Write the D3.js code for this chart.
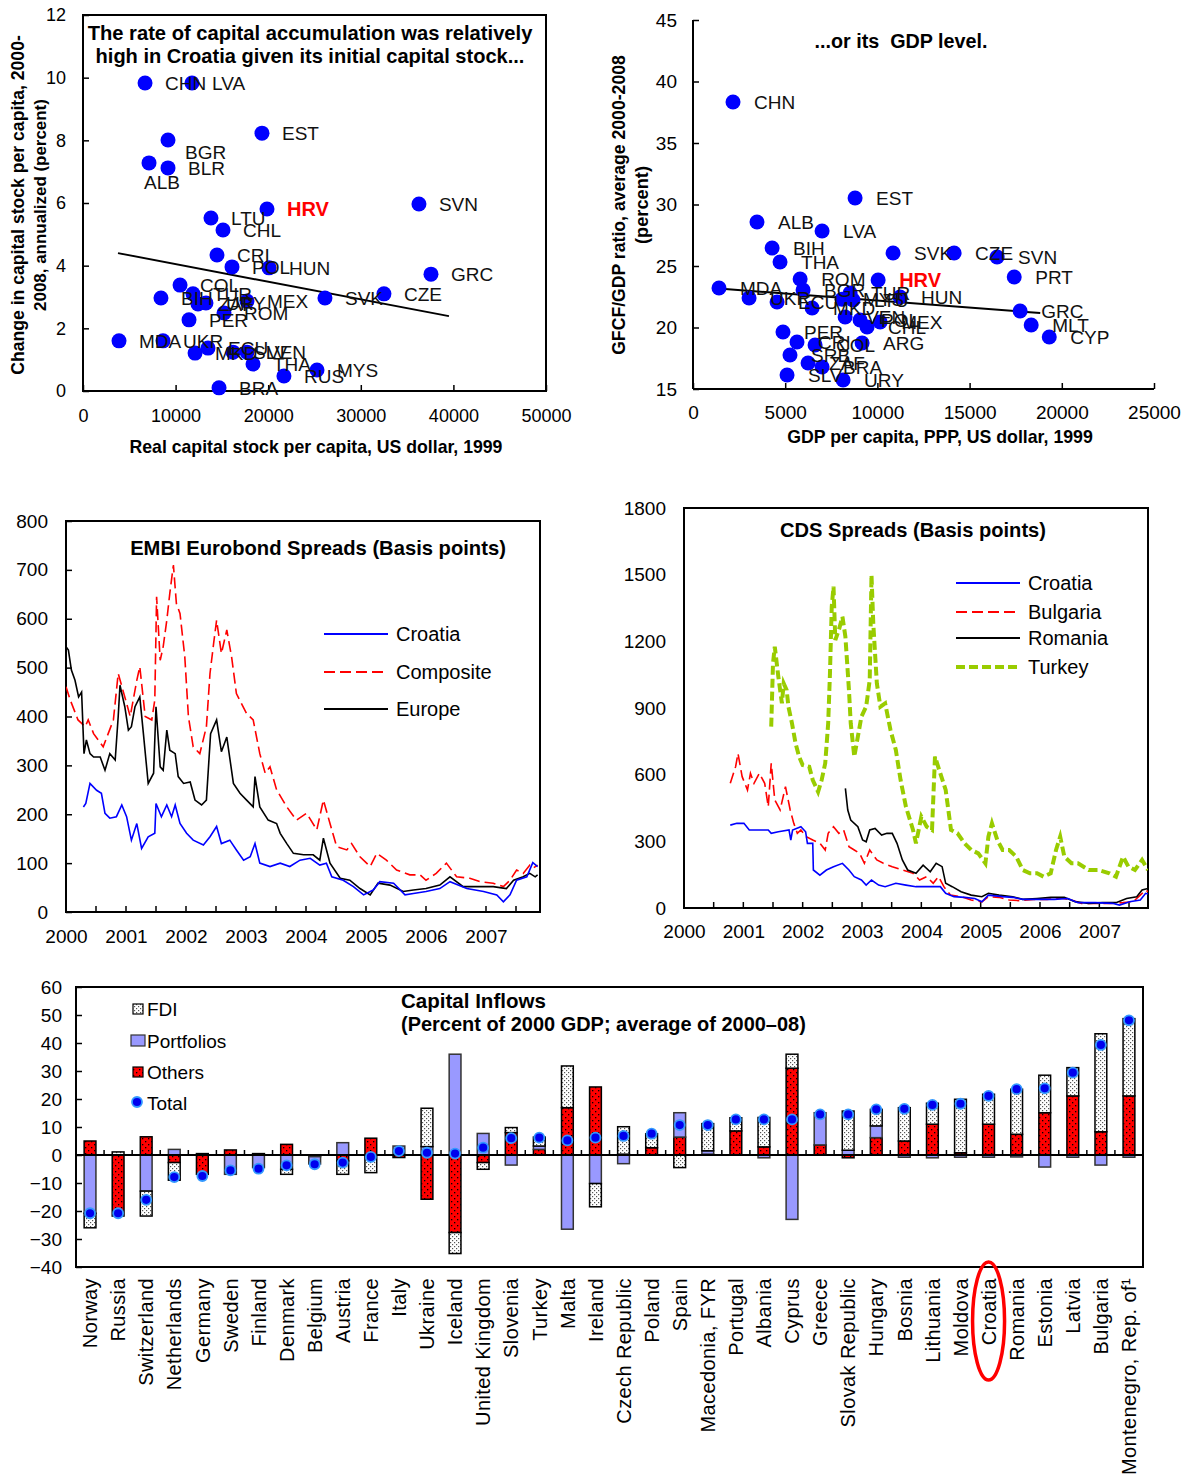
<!DOCTYPE html>
<html><head><meta charset="utf-8">
<script src="https://cdn.jsdelivr.net/npm/d3@7"></script>
<style>body{margin:0;background:#fff}</style>
</head><body>
<script>
// ---------------- DATA ----------------
// Panel 1: capital stock vs capital accumulation
const p1Countries=["CHN","LVA","EST","BGR","ALB","BLR","HRV","SVN","LTU","CHL","CRI","POL","HUN","GRC","COL","CZE","SVK","BIH","TUR","ZAF","URY","MEX","ROM","PER","MDA","UKR","MKD","ECU","SLV","VEN","THA","RUS","MYS","BRA"];
const p1CapitalStock=[6700,11770,19330,9180,7130,9180,19870,36280,13820,15120,14470,16090,20090,37580,10480,32500,26130,8420,11880,12420,13280,17710,15230,11450,3890,8640,12100,13500,16200,17710,18360,21700,25270,14690];
const p1CapitalGrowth=[9.83,9.83,8.23,8.01,7.28,7.12,5.81,5.97,5.52,5.14,4.34,3.96,3.93,3.73,3.38,3.10,2.97,2.97,3.10,2.78,2.81,2.87,2.49,2.27,1.60,1.60,1.21,1.37,1.24,1.24,0.86,0.48,0.67,0.10];
const p1FitX=[3780,39520];
const p1FitY=[4.40,2.39];
const p1XTicks=[0,10000,20000,30000,40000,50000];
const p1YTicks=[0,2,4,6,8,10,12];

// Panel 2: GDP per capita vs GFCF/GDP
const p2Countries=["CHN","EST","ALB","LVA","BIH","THA","SVK","CZE","SVN","PRT","ROM","HRV","MDA","UKR","BGR","ECU","TUR","LTU","MKD","MYS","VEN","POL","CHL","MEX","HUN","PER","CRI","COL","ARG","SRB","ZAF","BRA","SLV","URY","GRC","MLT","CYP"];
const p2GdpPerCapita=[2170,8790,3470,7000,4290,4720,10850,14160,16490,17420,5810,10040,1410,3040,5970,4560,8520,8680,6460,8080,8250,9060,9440,10150,11230,4880,5640,6620,9170,5260,6240,7000,5100,8140,17740,18340,19320];
const p2Gfcf=[38.33,30.53,28.58,27.85,26.46,25.33,26.06,26.06,25.73,24.11,23.94,23.86,23.21,22.40,23.05,22.07,22.80,22.24,21.59,22.30,20.85,20.61,20.04,20.45,22.48,19.63,18.82,18.58,18.74,17.76,17.11,16.79,16.14,15.73,21.34,20.20,19.23];
const p2FitX=[1030,18830];
const p2FitY=[23.21,21.18];
const p2XTicks=[0,5000,10000,15000,20000,25000];
const p2YTicks=[15,20,25,30,35,40,45];

// Panel 3: EMBI spreads [year, bp]
const embiCroatia=[[2000.29,215],[2000.33,222],[2000.4,263],[2000.51,249],[2000.59,243],[2000.65,202],[2000.73,192],[2000.84,195],[2000.93,219],[2001.01,195],[2001.09,147],[2001.18,181],[2001.26,130],[2001.37,154],[2001.48,161],[2001.5,222],[2001.59,195],[2001.68,219],[2001.76,195],[2001.82,219],[2001.9,181],[2002.01,161],[2002.12,147],[2002.29,137],[2002.4,154],[2002.51,175],[2002.59,140],[2002.73,147],[2002.84,127],[2002.96,106],[2003.07,113],[2003.15,140],[2003.23,100],[2003.4,93],[2003.57,100],[2003.73,93],[2003.9,106],[2004.07,110],[2004.23,96],[2004.34,100],[2004.43,72],[2004.62,65],[2004.79,52],[2004.96,35],[2005.12,45],[2005.23,62],[2005.46,59],[2005.65,35],[2005.79,38],[2006.0,42],[2006.23,48],[2006.4,62],[2006.68,48],[2006.96,42],[2007.18,35],[2007.29,21],[2007.4,35],[2007.51,65],[2007.68,72],[2007.78,101],[2007.86,93]];
const embiComposite=[[2000.0,461],[2000.07,434],[2000.2,393],[2000.32,379],[2000.37,393],[2000.46,365],[2000.62,338],[2000.79,393],[2000.87,488],[2000.98,440],[2001.07,400],[2001.18,474],[2001.23,502],[2001.32,400],[2001.43,393],[2001.48,434],[2001.51,645],[2001.57,515],[2001.62,543],[2001.68,597],[2001.73,652],[2001.79,710],[2001.84,631],[2001.9,611],[2001.98,522],[2002.04,400],[2002.12,338],[2002.23,324],[2002.34,379],[2002.4,488],[2002.46,549],[2002.51,597],[2002.59,529],[2002.68,577],[2002.76,522],[2002.84,447],[2003.01,406],[2003.12,393],[2003.23,324],[2003.32,284],[2003.4,297],[2003.51,250],[2003.68,215],[2003.84,188],[2004.01,202],[2004.18,168],[2004.29,229],[2004.4,181],[2004.51,134],[2004.68,127],[2004.76,140],[2004.9,113],[2005.07,93],[2005.18,120],[2005.34,106],[2005.51,86],[2005.73,76],[2005.9,76],[2006.0,65],[2006.17,79],[2006.34,100],[2006.51,72],[2006.73,69],[2006.9,62],[2007.12,59],[2007.29,52],[2007.4,65],[2007.51,86],[2007.62,79],[2007.73,96],[2007.79,90],[2007.86,96]];
const embiEurope=[[2000.0,543],[2000.04,536],[2000.09,495],[2000.15,474],[2000.21,440],[2000.26,450],[2000.3,324],[2000.34,352],[2000.4,324],[2000.46,317],[2000.57,317],[2000.65,290],[2000.73,324],[2000.82,311],[2000.87,400],[2000.9,464],[2000.98,420],[2001.04,372],[2001.09,379],[2001.15,420],[2001.23,440],[2001.29,365],[2001.37,263],[2001.46,284],[2001.5,420],[2001.57,297],[2001.62,290],[2001.68,372],[2001.73,331],[2001.82,324],[2001.87,277],[2001.96,263],[2002.07,266],[2002.15,229],[2002.26,219],[2002.34,229],[2002.41,365],[2002.51,393],[2002.59,328],[2002.68,358],[2002.79,263],[2002.9,243],[2003.01,229],[2003.12,215],[2003.15,277],[2003.23,215],[2003.37,188],[2003.51,181],[2003.57,161],[2003.68,140],[2003.79,120],[2003.96,117],[2004.12,117],[2004.23,106],[2004.29,151],[2004.4,100],[2004.57,69],[2004.73,65],[2004.9,48],[2005.07,35],[2005.2,59],[2005.4,55],[2005.62,42],[2005.79,45],[2006.0,48],[2006.23,55],[2006.4,72],[2006.62,52],[2006.9,52],[2007.12,52],[2007.34,48],[2007.46,65],[2007.62,72],[2007.73,79],[2007.82,72],[2007.86,76]];

// Panel 4: CDS spreads [year, bp]
const cdsCroatia=[[2000.78,373],[2000.89,381],[2001.01,381],[2001.1,351],[2001.24,351],[2001.42,351],[2001.47,336],[2001.59,343],[2001.77,351],[2001.8,306],[2001.83,351],[2001.97,366],[2002.05,343],[2002.08,291],[2002.17,291],[2002.18,171],[2002.29,148],[2002.4,171],[2002.52,186],[2002.67,201],[2002.78,171],[2002.87,141],[2002.99,126],[2003.07,103],[2003.16,126],[2003.28,103],[2003.39,96],[2003.57,111],[2003.74,103],[2003.91,96],[2004.15,96],[2004.32,96],[2004.41,66],[2004.55,51],[2004.73,48],[2004.9,43],[2005.02,28],[2005.13,58],[2005.37,51],[2005.54,48],[2005.71,39],[2005.95,39],[2006.24,39],[2006.47,43],[2006.64,24],[2006.93,24],[2007.22,21],[2007.34,13],[2007.51,28],[2007.69,36],[2007.78,66],[2007.82,63]];
const cdsBulgaria=[[2000.78,561],[2000.87,636],[2000.91,696],[2000.98,591],[2001.07,531],[2001.12,606],[2001.18,561],[2001.27,606],[2001.36,561],[2001.42,456],[2001.47,651],[2001.53,486],[2001.62,441],[2001.71,546],[2001.79,441],[2001.85,381],[2001.91,336],[2001.97,351],[2002.06,321],[2002.17,306],[2002.29,291],[2002.38,261],[2002.43,336],[2002.52,366],[2002.61,336],[2002.69,351],[2002.78,276],[2002.87,261],[2002.96,246],[2003.04,201],[2003.13,261],[2003.25,216],[2003.36,201],[2003.51,186],[2003.68,171],[2003.86,156],[2003.97,126],[2004.09,141],[2004.2,111],[2004.29,141],[2004.38,96],[2004.49,58],[2004.67,51],[2004.84,36],[2005.02,28],[2005.13,51],[2005.31,48],[2005.48,36],[2005.66,33],[2005.89,39],[2006.12,39],[2006.35,45],[2006.53,36],[2006.7,21],[2006.93,21],[2007.17,21],[2007.4,24],[2007.57,28],[2007.69,58],[2007.78,81],[2007.82,73]];
const cdsRomania=[[2002.72,538],[2002.76,441],[2002.81,396],[2002.93,366],[2003.01,306],[2003.07,298],[2003.13,351],[2003.22,358],[2003.33,328],[2003.42,336],[2003.51,336],[2003.59,291],[2003.68,216],[2003.77,171],[2003.91,156],[2004.03,193],[2004.15,163],[2004.25,201],[2004.35,186],[2004.41,111],[2004.52,96],[2004.67,73],[2004.84,58],[2005.02,51],[2005.13,66],[2005.31,58],[2005.54,51],[2005.71,39],[2005.95,43],[2006.18,48],[2006.41,48],[2006.59,28],[2006.82,21],[2007.05,24],[2007.28,24],[2007.46,43],[2007.63,51],[2007.72,81],[2007.82,88]];
const cdsTurkey=[[2001.47,816],[2001.5,1101],[2001.53,1176],[2001.59,1041],[2001.65,921],[2001.68,1011],[2001.73,981],[2001.76,906],[2001.82,831],[2001.88,741],[2001.94,681],[2002.0,643],[2002.11,636],[2002.17,576],[2002.26,523],[2002.32,576],[2002.38,651],[2002.43,831],[2002.46,1056],[2002.49,1356],[2002.52,1446],[2002.55,1206],[2002.61,1251],[2002.67,1311],[2002.72,1221],[2002.78,981],[2002.81,831],[2002.87,681],[2002.93,771],[2002.99,861],[2003.07,906],[2003.13,1026],[2003.16,1498],[2003.19,1281],[2003.25,1011],[2003.31,906],[2003.39,921],[2003.48,801],[2003.57,711],[2003.65,576],[2003.74,456],[2003.86,351],[2003.91,291],[2004.0,411],[2004.09,366],[2004.18,351],[2004.23,681],[2004.32,606],[2004.41,531],[2004.5,351],[2004.61,336],[2004.73,291],[2004.84,261],[2004.96,246],[2005.08,201],[2005.13,321],[2005.19,381],[2005.28,306],[2005.37,261],[2005.48,261],[2005.6,231],[2005.71,171],[2005.83,156],[2005.95,156],[2006.06,141],[2006.18,156],[2006.27,261],[2006.34,321],[2006.41,231],[2006.53,201],[2006.64,201],[2006.82,171],[2006.99,171],[2007.17,156],[2007.28,141],[2007.4,231],[2007.49,186],[2007.6,171],[2007.72,216],[2007.82,171]];
const yearTicks=[2000,2001,2002,2003,2004,2005,2006,2007];
const embiYTicks=[0,100,200,300,400,500,600,700,800];
const cdsYTicks=[0,300,600,900,1200,1500,1800];

// Panel 5: capital inflows (percent of 2000 GDP)
const inflowCountries=["Norway","Russia","Switzerland","Netherlands","Germany","Sweden","Finland","Denmark","Belgium","Austria","France","Italy","Ukraine","Iceland","United Kingdom","Slovenia","Turkey","Malta","Ireland","Czech Republic","Poland","Spain","Macedonia, FYR","Portugal","Albania","Cyprus","Greece","Slovak Republic","Hungary","Bosnia","Lithuania","Moldova","Croatia","Romania","Estonia","Latvia","Bulgaria","Montenegro, Rep. of\u00b9"];
const inflowOthers=[5.0,-21.8,6.5,-2.7,-6.9,1.8,0,3.8,-0.6,-2.1,6.0,-0.9,-15.8,-27.7,-2.7,8.0,2.0,16.9,24.3,0.3,2.6,6.4,0.3,8.6,2.9,31.0,3.6,-1.0,6.2,5.0,11.0,0.8,11.0,7.4,15.1,21.1,8.3,21.1];
const inflowPortfolios=[-20.8,0,-12.9,2.0,0,-6.9,-4.5,-5.1,-2.6,4.4,0,3.2,3.0,36.0,7.7,-3.6,1.2,-26.5,-10.2,-3.1,0,8.7,1.2,0,-1.0,-23.0,11.5,1.7,4.2,-0.8,-1.0,-0.8,-0.8,-0.7,-4.3,-0.8,-3.6,-0.8];
const inflowFDI=[-5.2,1.1,-8.9,-6.3,0.5,0,0.5,-1.8,0,-4.8,-6.3,0,13.7,-7.5,-2.4,1.8,3.2,14.9,-8.3,9.8,5.0,-4.5,9.7,4.7,10.5,5.0,0,14.0,5.9,11.9,7.5,19.1,10.7,16.1,13.4,10.1,35.0,27.6];
const inflowTotal=[-20.8,-20.8,-16.0,-7.9,-7.5,-5.5,-4.9,-3.7,-3.3,-2.7,-0.7,1.4,0.8,0.5,2.6,6.0,6.2,5.2,6.2,6.8,7.6,10.7,10.7,12.7,12.7,12.7,14.5,14.5,16.3,16.5,17.9,18.3,21.1,23.5,23.8,29.4,39.3,48.1];
const inflowYTicks=[-40,-30,-20,-10,0,10,20,30,40,50,60];

// ---------------- DRAWING ----------------
const FONT="'Liberation Sans', Arial, Helvetica, sans-serif";
const svg=d3.select("body").append("svg").attr("width",1191).attr("height",1477)
  .style("font-family",FONT).style("display","block");

function fitText(sel,w){sel.each(function(){const L=this.getComputedTextLength();const fs=parseFloat(this.getAttribute("font-size"));if(L>0)this.setAttribute("font-size",fs*w/L);});}
function styleAxis(g,fs){g.select(".domain").remove();g.selectAll("text").attr("font-size",fs).attr("fill","#000").style("font-family",FONT);g.selectAll("line").attr("stroke","#000").attr("stroke-width",1.5);}
function frame(x0,y0,x1,y1){svg.append("rect").attr("x",x0).attr("y",y0).attr("width",x1-x0).attr("height",y1-y0).attr("fill","none").attr("stroke","#000").attr("stroke-width",2);}

// ===== Panel 1 =====
{
 const x=d3.scaleLinear([0,50000],[83,546]);
 const y=d3.scaleLinear([0,12],[391,15]);
 frame(83,15,546,391);
 svg.append("g").attr("transform","translate(83,0)").call(d3.axisLeft(y).tickValues(p1YTicks).tickSize(-6).tickPadding(17)).call(g=>styleAxis(g,18));
 svg.append("g").attr("transform","translate(0,391)").call(d3.axisBottom(x).tickValues(p1XTicks).tickFormat(d3.format("d")).tickSize(-6).tickPadding(18)).call(g=>styleAxis(g,18));
 svg.append("line").attr("x1",x(p1FitX[0])).attr("y1",y(p1FitY[0])).attr("x2",x(p1FitX[1])).attr("y2",y(p1FitY[1])).attr("stroke","#000").attr("stroke-width",2);
 const nudge={BGR:[17,12],ALB:[-5,19]};
 const g=svg.append("g");
 p1Countries.forEach((c,i)=>{
   const px=x(p1CapitalStock[i]),py=y(p1CapitalGrowth[i]);
   g.append("circle").attr("cx",px).attr("cy",py).attr("r",7.5).attr("fill","#0000ff");
 });
 p1Countries.forEach((c,i)=>{
   const px=x(p1CapitalStock[i]),py=y(p1CapitalGrowth[i]);
   const n=nudge[c]||[20,0];
   g.append("text").attr("x",px+n[0]).attr("y",py+n[1]).attr("dy","0.36em").attr("font-size",c==="HRV"?20:19)
    .attr("font-weight",c==="HRV"?"bold":"normal").attr("fill",c==="HRV"?"#ff0000":"#111").text(c);
 });
 const t1=svg.append("text").attr("x",310).attr("y",40).attr("text-anchor","middle").attr("font-size",19).attr("font-weight","bold").text("The rate of capital accumulation was relatively");
 fitText(t1,445);
 const t2=svg.append("text").attr("x",310).attr("y",63).attr("text-anchor","middle").attr("font-size",19).attr("font-weight","bold").text("high in Croatia given its initial capital stock...");
 fitText(t2,429);
 const yt1=svg.append("text").attr("transform","translate(24,205) rotate(-90)").attr("text-anchor","middle").attr("font-size",15).attr("font-weight","bold").text("Change in capital stock per capita, 2000-");
 fitText(yt1,340);
 const yt2=svg.append("text").attr("transform","translate(46,205) rotate(-90)").attr("text-anchor","middle").attr("font-size",15).attr("font-weight","bold").text("2008, annualized (percent)");
 fitText(yt2,212);
 const xt=svg.append("text").attr("x",316).attr("y",453).attr("text-anchor","middle").attr("font-size",15).attr("font-weight","bold").text("Real capital stock per capita, US dollar, 1999");
 fitText(xt,373);
}

// ===== Panel 2 =====
{
 const x=d3.scaleLinear([0,25000],[693,1154]);
 const y=d3.scaleLinear([15,45],[389,20]);
 svg.append("line").attr("x1",693).attr("x2",693).attr("y1",20).attr("y2",389).attr("stroke","#000").attr("stroke-width",2);
 svg.append("line").attr("x1",693).attr("x2",1154).attr("y1",389).attr("y2",389).attr("stroke","#000").attr("stroke-width",2);
 svg.append("g").attr("transform","translate(693,0)").call(d3.axisLeft(y).tickValues(p2YTicks).tickSize(-6).tickPadding(16)).call(g=>styleAxis(g,19));
 svg.append("g").attr("transform","translate(0,389)").call(d3.axisBottom(x).tickValues(p2XTicks).tickFormat(d3.format("d")).tickSize(-6).tickPadding(17)).call(g=>styleAxis(g,19));
 svg.append("line").attr("x1",x(p2FitX[0])).attr("y1",y(p2FitY[0])).attr("x2",x(p2FitX[1])).attr("y2",y(p2FitY[1])).attr("stroke","#000").attr("stroke-width",2);
 const g=svg.append("g");
 p2Countries.forEach((c,i)=>{
   g.append("circle").attr("cx",x(p2GdpPerCapita[i])).attr("cy",y(p2Gfcf[i])).attr("r",7.5).attr("fill","#0000ff");
 });
 p2Countries.forEach((c,i)=>{
   const px=x(p2GdpPerCapita[i]),py=y(p2Gfcf[i]);
   g.append("text").attr("x",px+21).attr("y",py).attr("dy","0.36em").attr("font-size",c==="HRV"?20:19)
    .attr("font-weight",c==="HRV"?"bold":"normal").attr("fill",c==="HRV"?"#ff0000":"#111").text(c);
 });
 const t=svg.append("text").attr("x",901).attr("y",48).attr("text-anchor","middle").attr("font-size",17).attr("font-weight","bold").attr("xml:space","preserve").text("...or its  GDP level.");
 fitText(t,173);
 const yt1=svg.append("text").attr("transform","translate(625,205) rotate(-90)").attr("text-anchor","middle").attr("font-size",15).attr("font-weight","bold").text("GFCF/GDP ratio, average 2000-2008");
 fitText(yt1,300);
 const yt2=svg.append("text").attr("transform","translate(648,205) rotate(-90)").attr("text-anchor","middle").attr("font-size",15).attr("font-weight","bold").text("(percent)");
 fitText(yt2,78);
 const xt=svg.append("text").attr("x",940).attr("y",443).attr("text-anchor","middle").attr("font-size",15).attr("font-weight","bold").text("GDP per capita, PPP, US dollar, 1999");
 fitText(xt,306);
}

// ===== Panel 3: EMBI =====
{
 const x=d3.scaleLinear([2000,2007.9],[66,540]);
 const y=d3.scaleLinear([0,800],[912,521]);
 frame(66,521,540,912);
 svg.append("g").attr("transform","translate(66,0)").call(d3.axisLeft(y).tickValues(embiYTicks).tickSize(-6).tickPadding(18)).call(g=>styleAxis(g,19));
 svg.append("g").attr("transform","translate(0,912)").call(d3.axisBottom(x).tickValues(yearTicks).tickFormat(d3.format("d")).tickSize(0).tickPadding(18)).call(g=>styleAxis(g,19));
 const half=d3.range(2000.5,2007.9,0.5);
 svg.append("g").selectAll("line").data(half).join("line").attr("x1",d=>x(d)).attr("x2",d=>x(d)).attr("y1",912).attr("y2",906).attr("stroke","#000").attr("stroke-width",1.5);
 const line=d3.line().x(d=>x(d[0])).y(d=>y(d[1]));
 svg.append("clipPath").attr("id","clip3").append("rect").attr("x",66).attr("y",521).attr("width",474).attr("height",391);
 const lg=svg.append("g").attr("clip-path","url(#clip3)");
 lg.append("path").datum(embiComposite).attr("d",line).attr("fill","none").attr("stroke","#ff0000").attr("stroke-width",1.6).attr("stroke-dasharray","11,5");
 lg.append("path").datum(embiEurope).attr("d",line).attr("fill","none").attr("stroke","#000").attr("stroke-width",1.6);
 lg.append("path").datum(embiCroatia).attr("d",line).attr("fill","none").attr("stroke","#0000ff").attr("stroke-width",1.6);
 const leg=[["Croatia","#0000ff",null,634],["Composite","#ff0000","11,5",672],["Europe","#000",null,709]];
 leg.forEach(l=>{
   svg.append("line").attr("x1",324).attr("x2",388).attr("y1",l[3]).attr("y2",l[3]).attr("stroke",l[1]).attr("stroke-width",1.8).attr("stroke-dasharray",l[2]);
   svg.append("text").attr("x",396).attr("y",l[3]).attr("dy","0.36em").attr("font-size",20).text(l[0]);
 });
 const t=svg.append("text").attr("x",318).attr("y",555).attr("text-anchor","middle").attr("font-size",19).attr("font-weight","bold").text("EMBI Eurobond Spreads (Basis points)");
 fitText(t,376);
}

// ===== Panel 4: CDS =====
{
 const x=d3.scaleLinear([2000,2007.82],[684,1148]);
 const y=d3.scaleLinear([0,1800],[908,508]);
 frame(684,508,1148,908);
 svg.append("g").attr("transform","translate(684,0)").call(d3.axisLeft(y).tickValues(cdsYTicks).tickFormat(d3.format("d")).tickSize(0).tickPadding(18)).call(g=>styleAxis(g,19));
 svg.append("g").attr("transform","translate(0,908)").call(d3.axisBottom(x).tickValues(yearTicks).tickFormat(d3.format("d")).tickSize(0).tickPadding(17)).call(g=>styleAxis(g,19));
 const half=d3.range(2000.5,2007.82,0.5);
 svg.append("g").selectAll("line").data(half).join("line").attr("x1",d=>x(d)).attr("x2",d=>x(d)).attr("y1",908).attr("y2",902).attr("stroke","#000").attr("stroke-width",1.5);
 const line=d3.line().x(d=>x(d[0])).y(d=>y(d[1]));
 svg.append("clipPath").attr("id","clip4").append("rect").attr("x",684).attr("y",508).attr("width",464).attr("height",400);
 const lg=svg.append("g").attr("clip-path","url(#clip4)");
 lg.append("path").datum(cdsTurkey).attr("d",line).attr("fill","none").attr("stroke","#99cc00").attr("stroke-width",4).attr("stroke-dasharray","9,4");
 lg.append("path").datum(cdsBulgaria).attr("d",line).attr("fill","none").attr("stroke","#ff0000").attr("stroke-width",1.6).attr("stroke-dasharray","11,5");
 lg.append("path").datum(cdsRomania).attr("d",line).attr("fill","none").attr("stroke","#000").attr("stroke-width",1.6);
 lg.append("path").datum(cdsCroatia).attr("d",line).attr("fill","none").attr("stroke","#0000ff").attr("stroke-width",1.6);
 const leg=[["Croatia","#0000ff",null,1.8,583],["Bulgaria","#ff0000","11,5",1.8,612],["Romania","#000",null,1.8,638],["Turkey","#99cc00","9,4",4,667]];
 leg.forEach(l=>{
   svg.append("line").attr("x1",956).attr("x2",1020).attr("y1",l[4]).attr("y2",l[4]).attr("stroke",l[1]).attr("stroke-width",l[3]).attr("stroke-dasharray",l[2]);
   svg.append("text").attr("x",1028).attr("y",l[4]).attr("dy","0.36em").attr("font-size",20).text(l[0]);
 });
 const t=svg.append("text").attr("x",913).attr("y",537).attr("text-anchor","middle").attr("font-size",19).attr("font-weight","bold").text("CDS Spreads (Basis points)");
 fitText(t,266);
}

// ===== Panel 5: Capital inflows =====
{
 const defs=svg.append("defs");
 const pf=defs.append("pattern").attr("id","patFDI").attr("width",4).attr("height",4).attr("patternUnits","userSpaceOnUse");
 pf.append("rect").attr("width",4).attr("height",4).attr("fill","#fff");
 pf.append("rect").attr("x",0).attr("y",0).attr("width",1.2).attr("height",1.2).attr("fill","#555");
 pf.append("rect").attr("x",2).attr("y",2).attr("width",1.2).attr("height",1.2).attr("fill","#555");
 const po=defs.append("pattern").attr("id","patOth").attr("width",6).attr("height",6).attr("patternUnits","userSpaceOnUse");
 po.append("rect").attr("width",6).attr("height",6).attr("fill","#ff0000");
 po.append("rect").attr("x",1).attr("y",1).attr("width",1.3).attr("height",1.3).attr("fill","#000");
 po.append("rect").attr("x",4).attr("y",4).attr("width",1.3).attr("height",1.3).attr("fill","#000");

 const x=d3.scaleBand(inflowCountries,[76,1143]).paddingInner(0.58).paddingOuter(0.29);
 const y=d3.scaleLinear([-40,60],[1267,987]);
 frame(76,987,1143,1267);
 svg.append("g").attr("transform","translate(76,0)").call(d3.axisLeft(y).tickValues(inflowYTicks).tickSize(-6).tickPadding(14)).call(g=>styleAxis(g,19));
 const rows=inflowCountries.map((c,i)=>({country:c,others:inflowOthers[i],portfolios:inflowPortfolios[i],fdi:inflowFDI[i],total:inflowTotal[i]}));
 const keys=["others","portfolios","fdi"];
 const fills={others:"url(#patOth)",portfolios:"#9999ff",fdi:"url(#patFDI)"};
 const stack=d3.stack().keys(keys).offset(d3.stackOffsetDiverging)(rows);
 stack.forEach(s=>{
   svg.append("g").selectAll("rect").data(s.filter(d=>Math.abs(d[1]-d[0])>0.01)).join("rect")
    .attr("x",d=>x(d.data.country)).attr("width",x.bandwidth())
    .attr("y",d=>y(Math.max(d[0],d[1]))).attr("height",d=>Math.abs(y(d[0])-y(d[1])))
    .attr("fill",fills[s.key]).attr("stroke",s.key==="portfolios"?"#333":"#000").attr("stroke-width",1.5);
 });
 svg.append("line").attr("x1",76).attr("x2",1143).attr("y1",y(0)).attr("y2",y(0)).attr("stroke","#000").attr("stroke-width",2);
 svg.append("g").selectAll("line").data(inflowCountries.slice(1)).join("line")
   .attr("x1",d=>x(d)-x.step()*x.paddingInner()/2).attr("x2",d=>x(d)-x.step()*x.paddingInner()/2)
   .attr("y1",y(0)).attr("y2",y(0)-5).attr("stroke","#000").attr("stroke-width",1.5);
 svg.append("g").selectAll("circle").data(rows).join("circle")
   .attr("cx",d=>x(d.country)+x.bandwidth()/2).attr("cy",d=>y(d.total)).attr("r",5)
   .attr("fill","#0000ee").attr("stroke","#3399ff").attr("stroke-width",1.8);
 svg.append("g").selectAll("text").data(inflowCountries).join("text")
   .attr("transform",d=>`translate(${x(d)+x.bandwidth()/2},1278) rotate(-90)`)
   .attr("text-anchor","end").attr("dy","0.36em").attr("font-size",20).attr("letter-spacing",0.4).text(d=>d);
 svg.append("ellipse").attr("cx",x("Croatia")+x.bandwidth()/2).attr("cy",1321).attr("rx",16).attr("ry",59)
   .attr("fill","none").attr("stroke","#ff0000").attr("stroke-width",3.5);
 const lg=svg.append("g");
 lg.append("rect").attr("x",133).attr("y",1004).attr("width",10).attr("height",10).attr("fill","url(#patFDI)").attr("stroke","#000").attr("stroke-width",1.2);
 lg.append("rect").attr("x",131).attr("y",1035).attr("width",14).attr("height",11).attr("fill","#9999ff").attr("stroke","#333").attr("stroke-width",1.2);
 lg.append("rect").attr("x",133).attr("y",1067).attr("width",10).attr("height",10).attr("fill","url(#patOth)").attr("stroke","#000").attr("stroke-width",1.2);
 lg.append("circle").attr("cx",137).attr("cy",1102).attr("r",5).attr("fill","#0000ee").attr("stroke","#3399ff").attr("stroke-width",1.8);
 [["FDI",1009],["Portfolios",1041],["Others",1072],["Total",1103]].forEach(l=>{
   lg.append("text").attr("x",147).attr("y",l[1]).attr("dy","0.36em").attr("font-size",19).text(l[0]);
 });
 const t1=svg.append("text").attr("x",401).attr("y",1008).attr("font-size",19).attr("font-weight","bold").text("Capital Inflows");
 fitText(t1,145);
 const t2=svg.append("text").attr("x",401).attr("y",1031).attr("font-size",19).attr("font-weight","bold").text("(Percent of 2000 GDP; average of 2000\u201308)");
 fitText(t2,405);
}
</script>
</body></html>
